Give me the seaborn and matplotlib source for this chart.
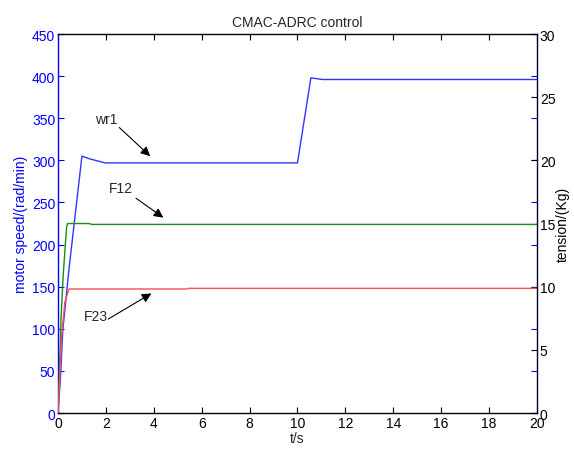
import numpy as np
import pandas as pd
import matplotlib
matplotlib.use('Agg')
import matplotlib.pyplot as plt
import seaborn as sns

# motor speed wr1 (rad/min), left axis
t_wr1 = [0, 0.1, 0.2, 0.46, 1.0, 1.3, 1.96, 10.0, 10.56, 10.8, 11.05, 20]
wr1 = [0, 40, 98, 171, 305, 302, 297, 297, 398, 397, 396, 396]

# tension F12 (Kg), right axis
t_f12 = [0, 0.05, 0.13, 0.22, 0.36, 0.4, 1.3, 1.4, 20]
f12 = [0, 2.7, 7.6, 11.0, 14.7, 15.0, 15.0, 14.93, 14.93]

# tension F23 (Kg), right axis
t_f23 = [0, 0.02, 0.15, 0.29, 0.46, 5.4, 5.45, 20]
f23 = [0, 0.5, 6.1, 8.8, 9.82, 9.82, 9.87, 9.87]

left_ticks = list(range(0, 451, 50))
right_ticks = list(range(0, 31, 5))
x_ticks = list(range(0, 21, 2))

sns.set_style('ticks')
plt.rcParams['font.family'] = ['Liberation Sans', 'DejaVu Sans']
plt.rcParams['font.size'] = 10

fig = plt.figure(figsize=(5.74, 4.52), dpi=100)
ax = fig.add_axes([0.101, 0.084, 0.8345, 0.8385])
ax2 = ax.twinx()

df_w = pd.DataFrame({'t': t_wr1, 'v': wr1})
df_12 = pd.DataFrame({'t': t_f12, 'v': f12})
df_23 = pd.DataFrame({'t': t_f23, 'v': f23})

sns.lineplot(data=df_w, x='t', y='v', ax=ax, color='#3333ff', lw=1.0, estimator=None, sort=False)
sns.lineplot(data=df_12, x='t', y='v', ax=ax2, color='#1a8c1a', lw=1.0, estimator=None, sort=False)
sns.lineplot(data=df_23, x='t', y='v', ax=ax2, color='#ff4d4d', lw=1.0, estimator=None, sort=False)

ax.set_xlim(0, 20)
ax.set_ylim(0, 450)
ax2.set_ylim(0, 30)
ax.set_xticks(x_ticks)
ax.set_yticks(left_ticks)
ax2.set_yticks(right_ticks)

ax.tick_params(axis='x', direction='in', top=True, colors='black', length=4, labelsize=10, pad=2)
ax.tick_params(axis='y', direction='in', right=True, colors='blue', length=4, labelsize=10, pad=2)
ax2.tick_params(axis='y', direction='in', colors='black', length=4, labelsize=10, pad=2)

for s in ['top', 'bottom']:
    ax.spines[s].set_color('black')
ax.spines['left'].set_color('blue')
ax.spines['right'].set_visible(False)
ax2.spines['right'].set_color('#000033')
ax2.spines['left'].set_visible(False)
ax2.spines['top'].set_visible(False)
ax2.spines['bottom'].set_visible(False)
for a in (ax, ax2):
    for s in a.spines.values():
        s.set_linewidth(1.0)

ax.set_xlabel('t/s', labelpad=1)
ax.set_ylabel('motor speed/(rad/min)', color='blue', labelpad=3)
ax2.set_ylabel('tension/(Kg)', color='black', labelpad=0)
ax.set_title('CMAC-ADRC control', fontsize=10, pad=6)

arrow = dict(arrowstyle='-|>', color='black', lw=0.8, mutation_scale=14, shrinkA=0, shrinkB=0)
ax.text(2.03, 349, 'wr1', ha='center', va='center', fontsize=10)
ax.annotate('', xy=(3.85, 305), xytext=(2.56, 339), arrowprops=arrow)
ax.text(2.63, 267, 'F12', ha='center', va='center', fontsize=10)
ax.annotate('', xy=(4.4, 232), xytext=(3.26, 255), arrowprops=arrow)
ax.text(1.57, 115.6, 'F23', ha='center', va='center', fontsize=10)
ax.annotate('', xy=(3.9, 142), xytext=(2.1, 111.6), arrowprops=arrow)

fig.savefig('out.png', dpi=100)
